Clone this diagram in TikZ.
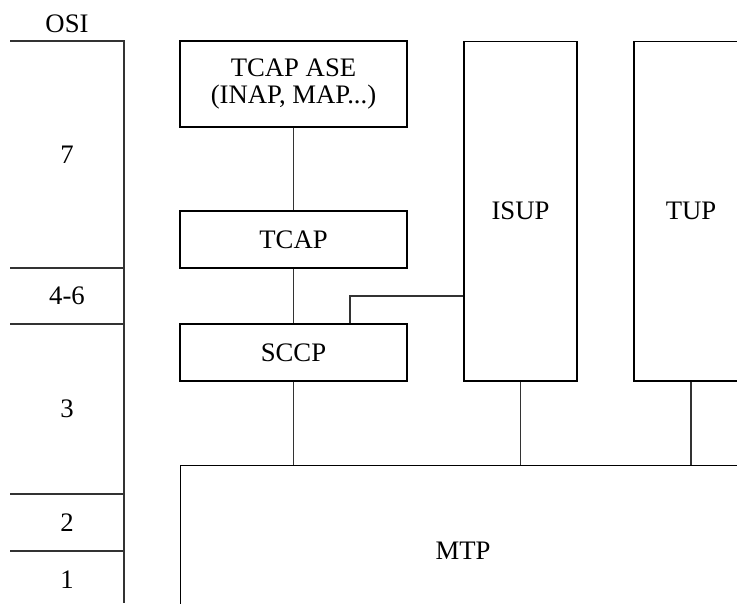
\documentclass[tikz,border=0pt]{standalone}
\usepackage{fontspec}
\setmainfont{Liberation Serif}
\usetikzlibrary{positioning}

\begin{document}
\begin{tikzpicture}[x=0.02cm, y=-0.02cm,
  layer/.style={draw, line width=0.6pt, text centered, align=center,
    font=\fontsize{15.2}{15.5}\selectfont, inner sep=0pt},
  lbl/.style={font=\fontsize{15.2}{15.5}\selectfont, inner sep=0pt},
  link/.style={line width=0.6pt, black!80}
]
\useasboundingbox (0,0) rectangle (737,603);
\clip (0,0) rectangle (737,603);
% OSI reference column
\node[lbl] (osi) at (67,24) {OSI};
\draw[link] (10,41) -- (124,41) -- (124,603);
\draw[link] (10,268) -- (124,268);
\draw[link] (10,324) -- (124,324);
\draw[link] (10,494) -- (124,494);
\draw[link] (10,551) -- (124,551);
\node[lbl] (l7)  at (67,154.5) {7};
\node[lbl] (l46) at (67,296)   {4-6};
\node[lbl] (l3)  at (67,409)   {3};
\node[lbl] (l2)  at (67,522.5) {2};
\node[lbl] (l1)  at (67,580)   {1};
% SS7 stack
\node[layer, minimum width=4.54cm, minimum height=1.72cm] (ase)  at (293.5,84)
  {TCAP ASE\\(INAP, MAP...)};
\node[layer, minimum width=4.54cm, minimum height=1.14cm] (tcap) at (293.5,239.5) {TCAP};
\node[layer, minimum width=4.54cm, minimum height=1.14cm] (sccp) at (293.5,352.5) {SCCP};
\node[layer, minimum width=2.26cm, minimum height=6.8cm]  (isup) at (520.5,211) {ISUP};
\node[layer, minimum width=2.28cm, minimum height=6.8cm]  (tup)  at (691,211)   {TUP};
\node[layer, minimum width=11.32cm, minimum height=3.44cm] (mtp) at (463,551) {MTP};
\coordinate (tap) at (350,296);
\draw[link] (ase) -- (tcap);
\draw[link] (tcap) -- (sccp);
\draw[link] (sccp.north -| tap) |- (isup.west |- tap);
\draw[link] (sccp.south) -- (sccp.south |- mtp.north);
\draw[link] (isup.south) -- (isup.south |- mtp.north);
\draw[link] (tup.south) -- (tup.south |- mtp.north);
\end{tikzpicture}
\end{document}
